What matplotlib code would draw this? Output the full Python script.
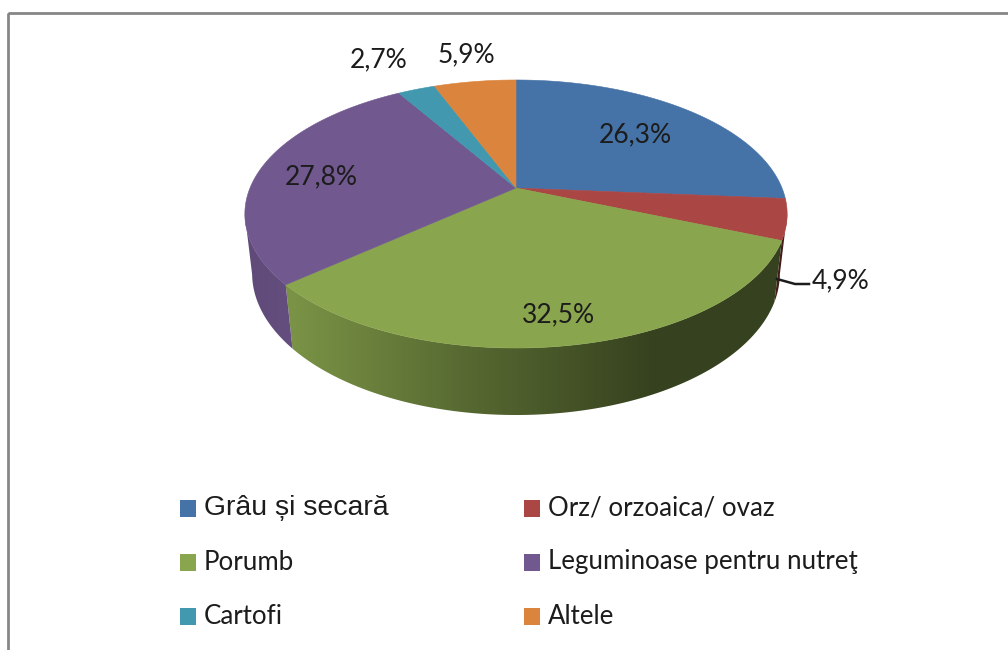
#importing libraries
import numpy as np
import matplotlib
matplotlib.use('Agg')
import matplotlib.pyplot as plt
from matplotlib.patches import Polygon, Rectangle

#data
categories = ['Grâu și secară', 'Orz/ orzoaica/ ovaz', 'Porumb',
              'Leguminoase pentru nutreţ', 'Cartofi', 'Altele']
shares = [26.3, 4.9, 32.5, 27.8, 2.7, 5.9]
colors = ['#4572A7', '#AA4643', '#89A54E', '#71588F', '#4198AF', '#DB843D']

#label centres, in pixels of the image
label_x = [635, 841, 558, 321, 379, 466]
label_y = [135, 281, 315, 177, 60, 55]

#side shading goes darker from left to right
shade_x = [245, 292, 470, 650, 790]
shade_v = [0.84, 0.89, 0.63, 0.40, 0.40]

#perspective of the pie disc, fitted by eye
CX, R = 516, 266
C, A, B = 0.194, -92.5, 188
BOTTOM_W, BOTTOM_Y = 0.0265, 65


def project(angle, lower=False):
    #angle in degrees, clockwise from the top
    px = np.sin(np.radians(angle))
    py = np.cos(np.radians(angle))
    w = 1 + C * py + (BOTTOM_W if lower else 0)
    return CX + R * px / w, (A * py + B + (BOTTOM_Y if lower else 0)) / w


fig = plt.figure(figsize=(10.08, 6.5), dpi=100)
ax = fig.add_axes([0, 0, 1, 1])

#grey frame, runs off the image on the right and at the bottom
ax.add_patch(Rectangle((8, 13), 1100, 700, fill=False, edgecolor='#868686', linewidth=2))

edges = np.cumsum([0] + shares) / sum(shares) * 360

#sides first, then the top. Each side is a gradient clipped to its outline
grad_x = np.arange(240, 795)
grad_shade = np.interp(grad_x, shade_x, shade_v)
for i, color in enumerate(colors):
    rgb = np.array(matplotlib.colors.to_rgb(color))
    steps = np.linspace(edges[i], edges[i + 1], 150)
    #only the front of the rim shows, the widest point is at cos = -C
    steps = steps[np.cos(np.radians(steps)) < -C]
    if len(steps) < 2:
        continue
    x_top, y_top = project(steps)
    x_low, y_low = project(steps, lower=True)
    outline = np.c_[np.r_[x_top, x_low[::-1]], np.r_[y_top, y_low[::-1]]]
    clip = Polygon(outline, closed=True, transform=ax.transData, facecolor='none', edgecolor='none')
    ax.add_patch(clip)
    gradient = (grad_shade[:, None] * rgb)[None, :, :]
    im = ax.imshow(gradient, extent=[240, 795, 450, 100], aspect='auto', interpolation='bilinear')
    im.set_clip_path(clip)

for i, color in enumerate(colors):
    steps = np.linspace(edges[i], edges[i + 1], 120)
    xs, ys = project(steps)
    ax.fill(np.r_[CX, xs], np.r_[B, ys], color=color, linewidth=0.4, zorder=2)

#data labels
for share, x, y in zip(shares, label_x, label_y):
    ax.text(x, y, f'{share:.1f}%'.replace('.', ','), ha='center', va='center',
            fontsize=19, family='Lato', color='#1c1c1c', zorder=3)

#leader line of the small slice
ax.plot([777, 795, 809], [279, 284, 284], color='#1c1c1c', linewidth=1.8, zorder=3)

#legend, two columns and three rows
leg_x = [180, 524]
leg_y = [508, 562, 616]
for i, (name, color) in enumerate(zip(categories, colors)):
    col, row = i % 2, i // 2
    ax.add_patch(Rectangle((leg_x[col], leg_y[row] - 8), 16, 17, facecolor=color, edgecolor='none'))
    font = 'Liberation Sans' if i == 0 else 'Lato'
    size = 20.4 if i == 0 else 18.6
    ax.text(leg_x[col] + 23.5, leg_y[row], name, ha='left', va='center',
            fontsize=size, family=[font, 'DejaVu Sans'], color='#1c1c1c')

ax.set_xlim(0, 1008)
ax.set_ylim(650, 0)
ax.axis('off')

plt.savefig('out.png', dpi=100)
plt.close()
